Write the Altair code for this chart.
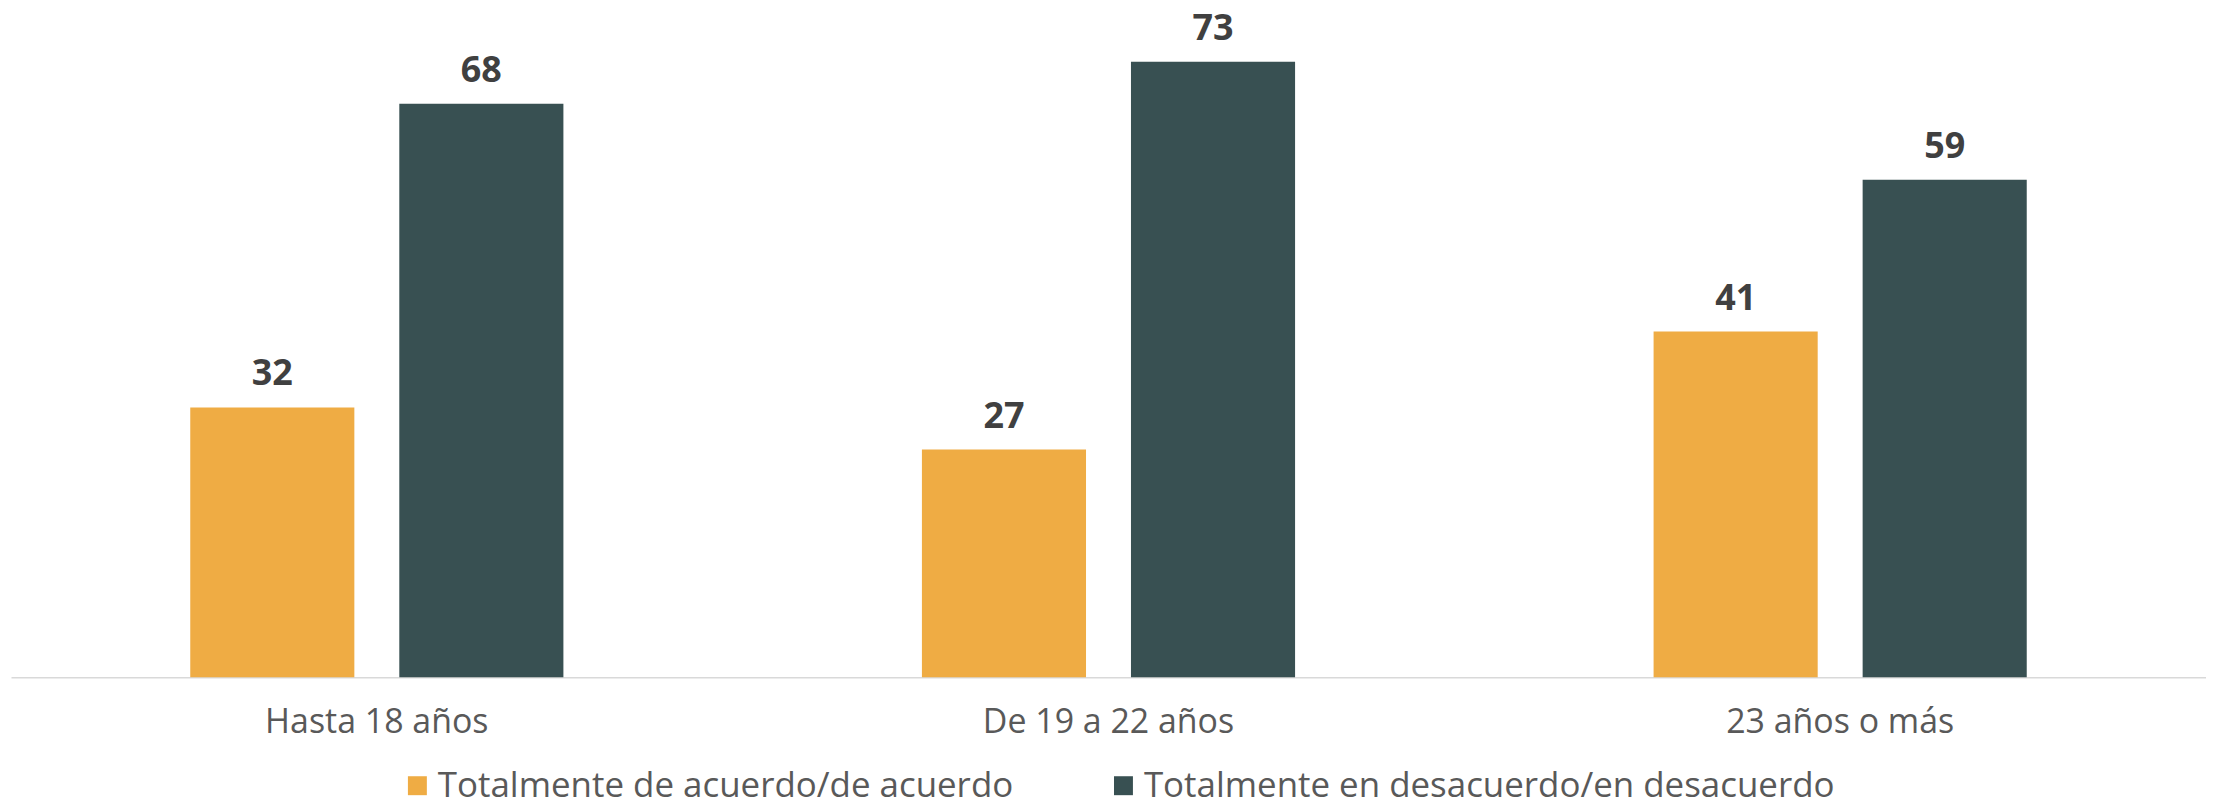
import altair as alt
import pandas as pd

categories = ["Hasta 18 años", "De 19 a 22 años", "23 años o más"]
series = ["Totalmente de acuerdo/de acuerdo", "Totalmente en desacuerdo/en desacuerdo"]
acuerdo = [32, 27, 41]
desacuerdo = [68, 73, 59]
colors = ["#EFAC44", "#385052"]

rows = []
for i, c in enumerate(categories):
    rows.append({"cat": c, "serie": series[0], "valor": acuerdo[i]})
    rows.append({"cat": c, "serie": series[1], "valor": desacuerdo[i]})
df = pd.DataFrame(rows)

FONT = "Open Sans"

x = alt.X(
    "cat:N",
    sort=categories,
    title=None,
    scale=alt.Scale(paddingInner=0.49, paddingOuter=0.245),
    axis=alt.Axis(
        labelAngle=0,
        ticks=False,
        tickSize=0,
        labelPadding=28,
        labelFont=FONT,
        labelFontSize=34,
        labelColor="#595959",
        labelLimit=1000,
        domainColor="#d9d9d9",
        domainWidth=1.5,
        grid=False,
    ),
)
xoff = alt.XOffset("serie:N", sort=series, scale=alt.Scale(paddingInner=0.215, paddingOuter=0))
y = alt.Y("valor:Q", scale=alt.Scale(domain=[0, 79], nice=False), axis=None)

bars = alt.Chart(df).mark_bar().encode(
    x=x,
    xOffset=xoff,
    y=y,
    color=alt.Color(
        "serie:N",
        sort=series,
        scale=alt.Scale(domain=series, range=colors),
        legend=alt.Legend(
            title=None,
            orient="none",
            direction="horizontal",
            columns=2,
            legendX=390,
            legendY=759,
            padding=0,
            symbolType="square",
            symbolSize=361,
            symbolStrokeWidth=0,
            labelOffset=3,
            columnPadding=92,
            labelFont=FONT,
            labelFontSize=35,
            labelColor="#595959",
            labelLimit=1000,
        ),
    ),
)

labels = alt.Chart(df).mark_text(
    baseline="alphabetic", dy=-22, font=FONT, fontSize=36, fontWeight="bold", color="#404040"
).encode(x=x, xOffset=xoff, y=y, text=alt.Text("valor:Q"))

chart = (
    alt.layer(bars, labels)
    .properties(
        width=2201,
        height=668,
        autosize=alt.AutoSizeParams(type="none"),
        padding={"left": 3, "top": 2, "right": 0, "bottom": 123},
    )
    .configure(background="white")
    .configure_view(stroke=None, strokeWidth=0)
)

chart.save("out.html", embed_options={"renderer": "svg", "actions": False})
